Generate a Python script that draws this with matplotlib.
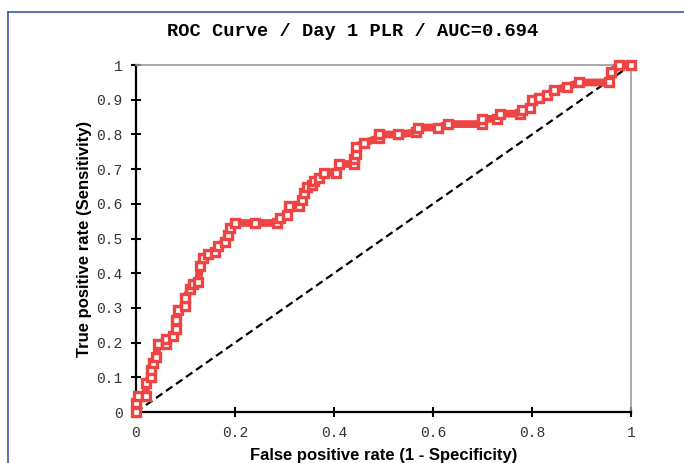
import matplotlib
matplotlib.use('Agg')
import matplotlib.pyplot as plt
from matplotlib.lines import Line2D

title = 'ROC Curve / Day 1 PLR / AUC=0.694'
xlabel = 'False positive rate (1 - Specificity)'
ylabel = 'True positive rate (Sensitivity)'

# ROC points (false positive rate, true positive rate)
fpr = [0.0, 0.0, 0.005, 0.02, 0.02, 0.03, 0.03, 0.035, 0.04, 0.045, 0.06, 0.06,
       0.075, 0.08, 0.08, 0.085, 0.1, 0.1, 0.11, 0.115, 0.125, 0.13, 0.135, 0.145,
       0.16, 0.165, 0.18, 0.185, 0.19, 0.2, 0.24, 0.285, 0.29, 0.305, 0.31, 0.33,
       0.335, 0.34, 0.345, 0.355, 0.36, 0.37, 0.38, 0.405, 0.41, 0.44, 0.44, 0.445,
       0.445, 0.46, 0.49, 0.49, 0.53, 0.565, 0.57, 0.61, 0.63, 0.70, 0.70, 0.73,
       0.735, 0.775, 0.78, 0.795, 0.80, 0.815, 0.83, 0.845, 0.87, 0.895, 0.955,
       0.96, 0.975, 1.0]
tpr = [0.0, 0.025, 0.045, 0.045, 0.085, 0.1, 0.12, 0.14, 0.16, 0.195, 0.195, 0.21,
       0.22, 0.24, 0.265, 0.295, 0.305, 0.33, 0.355, 0.37, 0.375, 0.42, 0.445, 0.455,
       0.46, 0.48, 0.49, 0.51, 0.53, 0.545, 0.545, 0.545, 0.56, 0.567, 0.595, 0.595,
       0.61, 0.63, 0.65, 0.655, 0.665, 0.675, 0.69, 0.69, 0.715, 0.715, 0.73, 0.745,
       0.765, 0.775, 0.79, 0.8, 0.8, 0.806, 0.82, 0.82, 0.83, 0.83, 0.845, 0.845,
       0.86, 0.86, 0.87, 0.875, 0.9, 0.905, 0.913, 0.928, 0.937, 0.95, 0.95,
       0.98, 1.0, 1.0]

ticks = [0, 0.1, 0.2, 0.3, 0.4, 0.5, 0.6, 0.7, 0.8, 0.9, 1]
tick_labels = ['0', '0.1', '0.2', '0.3', '0.4', '0.5', '0.6', '0.7', '0.8', '0.9', '1']
xticks = [0, 0.2, 0.4, 0.6, 0.8, 1]
xtick_labels = ['0', '0.2', '0.4', '0.6', '0.8', '1']

red = '#EE4444'
mono = 'Liberation Mono'

fig = plt.figure(figsize=(6.84, 4.63), dpi=100)
ax = fig.add_axes([0.1988, 0.110, 0.7237, 0.7494])

ax.plot([0, 1], [0, 1], color='black', lw=1.6, ls=(0, (3.5, 2)), zorder=2)
ax.plot(fpr, tpr, color=red, lw=5.6, marker='s', ms=5.2, mfc='white',
        mec=red, mew=2.4, clip_on=False, zorder=3, solid_joinstyle='miter')

ax.set_xlim(0, 1)
ax.set_ylim(0, 1)
ax.set_xticks(xticks)
ax.set_xticklabels(xtick_labels, family=mono, fontsize=10.5, color='#333333')
ax.set_yticks(ticks)
ax.set_yticklabels(tick_labels, family=mono, fontsize=10.5, color='#333333')
ax.tick_params(direction='inout', length=7.5, width=1.5, color='black')
ax.tick_params(axis='y', pad=6)
ax.tick_params(axis='x', pad=6)

for side in ['left', 'bottom']:
    ax.spines[side].set_linewidth(1.6)
    ax.spines[side].set_color('black')
for side in ['top', 'right']:
    ax.spines[side].set_linewidth(1.2)
    ax.spines[side].set_color('#999999')

fig.text(353 / 684, 1 - 31 / 463, title, family=mono, fontweight='bold',
         fontsize=13.5, ha='center', va='center')
ax.set_xlabel(xlabel, family='Liberation Sans', fontweight='bold', fontsize=12, labelpad=6)
ax.set_ylabel(ylabel, family='Liberation Sans', fontweight='bold', fontsize=12, labelpad=3)

# blue frame edge at top and left
fig.add_artist(Line2D([8 / 684, 8 / 684], [0, 1 - 12 / 463], transform=fig.transFigure,
                      color='#3B5BAA', lw=1.2))
fig.add_artist(Line2D([8 / 684, 1], [1 - 12 / 463, 1 - 12 / 463], transform=fig.transFigure,
                      color='#3B5BAA', lw=1.2))

fig.savefig('out.png', dpi=100)
